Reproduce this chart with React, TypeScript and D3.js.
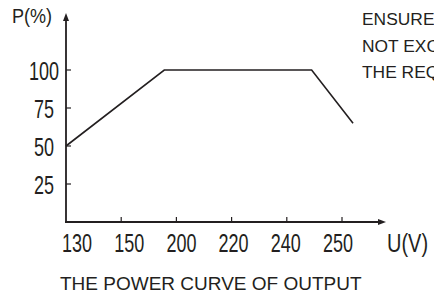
import React from 'react';
import * as d3 from 'd3';

// axis categories (U in volts) and P ticks
const voltTicks = [130, 150, 200, 220, 240, 250];
const powerTicks = [25, 50, 75, 100];

// power curve
const curveVolts = [130, 189, 244.5, 252];
const curvePower = [50, 100, 100, 65];

// side note, cut by the picture's right edge as in the source
const noteLines = ['ENSURE THE', 'NOT EXCEED', 'THE REQUIRED'];
const title = 'THE POWER CURVE OF OUTPUT';

const W = 434;
const H = 297;
const ink = '#231f20';
const font = '"Liberation Sans", Arial, sans-serif';

export default function App() {
  const x0 = 66;
  const step = 55.2;

  // piecewise scale: every category sits one step apart
  const x = d3
    .scaleLinear()
    .domain(voltTicks)
    .range(voltTicks.map((_, i) => x0 + i * step));

  const y = d3.scaleLinear().domain([0, 100]).range([222, 70]);

  // tick labels are spaced a little differently from the tick marks
  const xl = d3
    .scalePoint<string>()
    .domain(voltTicks.map(String))
    .range([77, 338]);

  const points = curveVolts.map((v, i) => [x(v), y(curvePower[i])] as [number, number]);
  const line = d3.line();

  const yTop = 13;
  const xEnd = 386;

  return (
    <>
      <style>{`body{margin:0}`}</style>
      <svg width={W} height={H} style={{ display: 'block', background: '#fff' }} fontFamily={font}>
        {/* axes */}
        <line x1={x0} x2={x0} y1={y(0)} y2={yTop + 5} stroke={ink} strokeWidth={1.8} />
        <path d={`M${x0},${yTop} L${x0 - 3},${yTop + 8} L${x0 + 3},${yTop + 8} Z`} fill={ink} />
        <line x1={x0 - 1} x2={xEnd - 5} y1={y(0)} y2={y(0)} stroke={ink} strokeWidth={1.8} />
        <path d={`M${xEnd},${y(0)} L${xEnd - 8},${y(0) - 3} L${xEnd - 8},${y(0) + 3} Z`} fill={ink} />

        {/* y ticks */}
        {powerTicks.map(t => (
          <g key={t}>
            <line x1={x0} x2={x0 + 5} y1={y(t)} y2={y(t)} stroke={ink} strokeWidth={1.2} />
            <text
              transform={`translate(44,${y(t) + 10}) scale(0.72,1)`}
              textAnchor="middle"
              fontSize={25}
              fill={ink}
            >
              {t}
            </text>
          </g>
        ))}

        {/* x ticks */}
        {voltTicks.slice(1).map(v => (
          <line key={v} x1={x(v)} x2={x(v)} y1={y(0)} y2={y(0) - 5} stroke={ink} strokeWidth={1.2} />
        ))}
        {voltTicks.map(v => (
          <text
            key={v}
            transform={`translate(${xl(String(v))},252) scale(0.72,1)`}
            textAnchor="middle"
            fontSize={25}
            fill={ink}
          >
            {v}
          </text>
        ))}

        {/* axis names */}
        <text transform="translate(12,23) scale(0.86,1)" fontSize={21} fill={ink}>
          P(%)
        </text>
        <text transform="translate(387,252) scale(0.8,1)" fontSize={25} fill={ink}>
          U(V)
        </text>

        {/* curve */}
        <path d={line(points) ?? ''} fill="none" stroke={ink} strokeWidth={1.6} strokeLinejoin="miter" />

        {noteLines.map((s, i) => (
          <text key={s} x={362} y={25 + i * 26.5} fontSize={17.4} fill={ink}>
            {s}
          </text>
        ))}

        <text x={60} y={290} fontSize={19} fill={ink}>
          {title}
        </text>
      </svg>
    </>
  );
}
